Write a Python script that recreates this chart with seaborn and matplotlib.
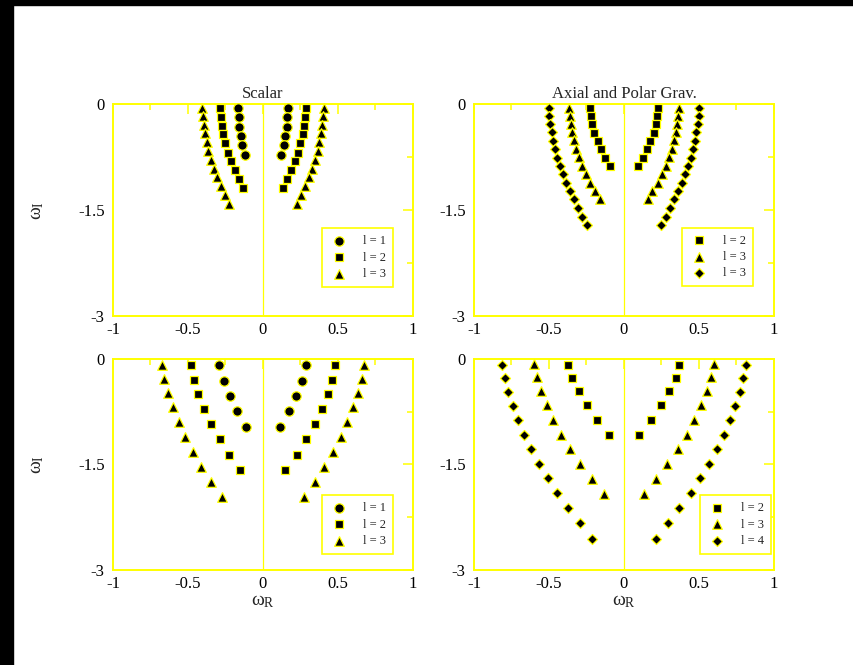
import matplotlib
matplotlib.use("Agg")
import numpy as np
import pandas as pd
import seaborn as sns
import matplotlib.pyplot as plt
from matplotlib.patches import Rectangle

# ---------------- data (|omega_R|, omega_I); modes are symmetric in omega_R ----------------
# Scalar, top panel
sc_top_l1_wr = [0.165, 0.163, 0.157, 0.148, 0.137, 0.120]
sc_top_l1_wi = [-0.058, -0.189, -0.319, -0.455, -0.585, -0.721]
sc_top_l2_wr = [0.287, 0.282, 0.275, 0.265, 0.250, 0.235, 0.214, 0.189, 0.163, 0.136]
sc_top_l2_wi = [-0.058, -0.179, -0.305, -0.431, -0.556, -0.687, -0.808, -0.939, -1.064, -1.195]
sc_top_l3_wr = [0.408, 0.401, 0.395, 0.387, 0.376, 0.364, 0.347, 0.328, 0.307, 0.282, 0.255, 0.226]
sc_top_l3_wi = [-0.058, -0.174, -0.295, -0.416, -0.542, -0.668, -0.793, -0.914, -1.040, -1.166, -1.292, -1.417]

# Axial and polar grav., top panel
gr_top_l2_wr = [0.226, 0.223, 0.213, 0.199, 0.176, 0.151, 0.124, 0.091]
gr_top_l2_wi = [-0.057, -0.165, -0.283, -0.406, -0.524, -0.638, -0.760, -0.883]
gr_top_l3_wr = [0.366, 0.361, 0.355, 0.346, 0.335, 0.320, 0.300, 0.278, 0.253, 0.224, 0.190, 0.157]
gr_top_l3_wi = [-0.052, -0.165, -0.279, -0.392, -0.515, -0.638, -0.756, -0.874, -0.997, -1.119, -1.233, -1.351]
gr_top_l4_wr = [0.502, 0.498, 0.493, 0.480, 0.471, 0.458, 0.444, 0.427, 0.409, 0.387, 0.362, 0.336, 0.309, 0.278, 0.244]
gr_top_l4_wi = [-0.057, -0.175, -0.283, -0.401, -0.520, -0.643, -0.761, -0.879, -0.992, -1.115, -1.233, -1.351, -1.474, -1.597, -1.715]

# Scalar, bottom panel
sc_bot_l1_wr = [0.290, 0.261, 0.222, 0.176, 0.111]
sc_bot_l1_wi = [-0.090, -0.308, -0.521, -0.744, -0.967]
sc_bot_l2_wr = [0.482, 0.461, 0.431, 0.391, 0.345, 0.289, 0.225, 0.150]
sc_bot_l2_wi = [-0.090, -0.299, -0.502, -0.711, -0.919, -1.137, -1.360, -1.578]
sc_bot_l3_wr = [0.675, 0.659, 0.632, 0.602, 0.562, 0.518, 0.467, 0.410, 0.346, 0.274]
sc_bot_l3_wi = [-0.085, -0.280, -0.479, -0.682, -0.891, -1.109, -1.318, -1.536, -1.749, -1.967]

# Grav., bottom panel
gr_bot_l2_wr = [0.370, 0.344, 0.300, 0.248, 0.177, 0.097]
gr_bot_l2_wi = [-0.081, -0.266, -0.456, -0.660, -0.865, -1.084]
gr_bot_l3_wr = [0.597, 0.581, 0.551, 0.512, 0.470, 0.418, 0.358, 0.290, 0.213, 0.132]
gr_bot_l3_wi = [-0.071, -0.262, -0.456, -0.661, -0.861, -1.075, -1.279, -1.488, -1.702, -1.916]
gr_bot_l4_wr = [0.812, 0.792, 0.771, 0.740, 0.707, 0.664, 0.618, 0.566, 0.508, 0.445, 0.370, 0.295, 0.215]
gr_bot_l4_wi = [-0.081, -0.271, -0.466, -0.666, -0.865, -1.075, -1.279, -1.493, -1.697, -1.911, -2.125, -2.334, -2.558]

titles = ["Scalar", "Axial and Polar Grav."]
x_ticks = [-1, -0.5, 0, 0.5, 1]
x_ticklabels = ["-1", "-0.5", "0", "0.5", "1"]
y_ticks = [0, -1.5, -3]
y_ticklabels = ["0", "-1.5", "-3"]

# ---------------- styling ----------------
sns.set_theme(style="white")
plt.rcParams["font.family"] = ["Liberation Serif", "DejaVu Serif"]
plt.rcParams["mathtext.fontset"] = "custom"
plt.rcParams["mathtext.rm"] = "Liberation Serif"
plt.rcParams["mathtext.it"] = "Liberation Serif:italic"
plt.rcParams["axes.unicode_minus"] = False

YEL = "#ffff00"
W, H = 854, 665
fig = plt.figure(figsize=(W / 100, H / 100), dpi=100)

def frac_axes(x0, y0, x1, y1):
    return fig.add_axes([x0 / W, 1 - y1 / H, (x1 - x0) / W, (y1 - y0) / H])

ax_tl = frac_axes(113, 104, 413, 316)
ax_tr = frac_axes(474, 104, 774, 316)
ax_bl = frac_axes(113, 359, 413, 570)
ax_br = frac_axes(474, 359, 774, 570)

marker_style = {"o": 46, "s": 40, "^": 48, "D": 26}

def draw(ax, series, legend_anchor):
    for wr, wi, mk, lab in series:
        wr = np.asarray(wr)
        wi = np.asarray(wi)
        df = pd.DataFrame({"wR": np.concatenate([-wr, wr]), "wI": np.concatenate([wi, wi])})
        sns.scatterplot(data=df, x="wR", y="wI", ax=ax, marker=mk, s=marker_style[mk],
                        color="black", edgecolor=YEL, linewidth=0.9, label=lab, zorder=3,
                        clip_on=False)
    ax.axvline(0, color=YEL, lw=0.9, zorder=1)
    ax.set_xlim(-1, 1)
    ax.set_ylim(-3, 0)
    ax.set_xticks(x_ticks)
    ax.set_xticklabels(x_ticklabels)
    ax.set_yticks(y_ticks)
    ax.set_yticklabels(y_ticklabels)
    ax.set_xticks([-0.75, -0.25, 0.25, 0.75], minor=True)
    ax.set_yticks([-0.75, -2.25], minor=True)
    ax.tick_params(which="both", direction="in", top=True, right=True, color=YEL,
                   labelsize=12, labelcolor="black", width=1.1)
    ax.tick_params(which="major", length=7, pad=4)
    ax.tick_params(which="minor", length=4)
    ax.tick_params(axis="y", which="major", pad=6)
    for sp in ax.spines.values():
        sp.set_color(YEL)
        sp.set_linewidth(1.4)
    ax.set_xlabel("")
    ax.set_ylabel("")
    leg = ax.legend(loc="lower right", bbox_to_anchor=legend_anchor, borderaxespad=0,
                    fontsize=9, frameon=True, fancybox=False, framealpha=1,
                    edgecolor=YEL, borderpad=0.55, handlelength=1.6,
                    handletextpad=1.1, labelspacing=0.35)
    leg.get_frame().set_linewidth(1.2)

draw(ax_tl, [(sc_top_l1_wr, sc_top_l1_wi, "o", "l = 1"),
             (sc_top_l2_wr, sc_top_l2_wi, "s", "l = 2"),
             (sc_top_l3_wr, sc_top_l3_wi, "^", "l = 3")], (0.933, 0.137))
draw(ax_tr, [(gr_top_l2_wr, gr_top_l2_wi, "s", "l = 2"),
             (gr_top_l3_wr, gr_top_l3_wi, "^", "l = 3"),
             (gr_top_l4_wr, gr_top_l4_wi, "D", "l = 3")], (0.93, 0.14))
draw(ax_bl, [(sc_bot_l1_wr, sc_bot_l1_wi, "o", "l = 1"),
             (sc_bot_l2_wr, sc_bot_l2_wi, "s", "l = 2"),
             (sc_bot_l3_wr, sc_bot_l3_wi, "^", "l = 3")], (0.933, 0.076))
draw(ax_br, [(gr_bot_l2_wr, gr_bot_l2_wi, "s", "l = 2"),
             (gr_bot_l3_wr, gr_bot_l3_wi, "^", "l = 3"),
             (gr_bot_l4_wr, gr_bot_l4_wi, "D", "l = 4")], (0.99, 0.076))

ax_tl.set_title(titles[0], fontsize=12, pad=4)
ax_tr.set_title(titles[1], fontsize=12, pad=4)

for ax in (ax_tl, ax_bl):
    ax.set_ylabel("ω$_\\mathrm{I}$", fontsize=14)
    ax.yaxis.set_label_coords(-0.225, 0.5)
for ax in (ax_bl, ax_br):
    ax.set_xlabel("ω$_\\mathrm{R}$", fontsize=14)
    ax.xaxis.set_label_coords(0.5, -0.11)

# black border strips of the original screenshot
fig.add_artist(Rectangle((0, 0), 13 / W, 1, transform=fig.transFigure, color="black", zorder=10))
fig.add_artist(Rectangle((0, 1 - 5 / H), 1, 5 / H, transform=fig.transFigure, color="black", zorder=10))

fig.savefig("out.png", dpi=100, facecolor="white")
